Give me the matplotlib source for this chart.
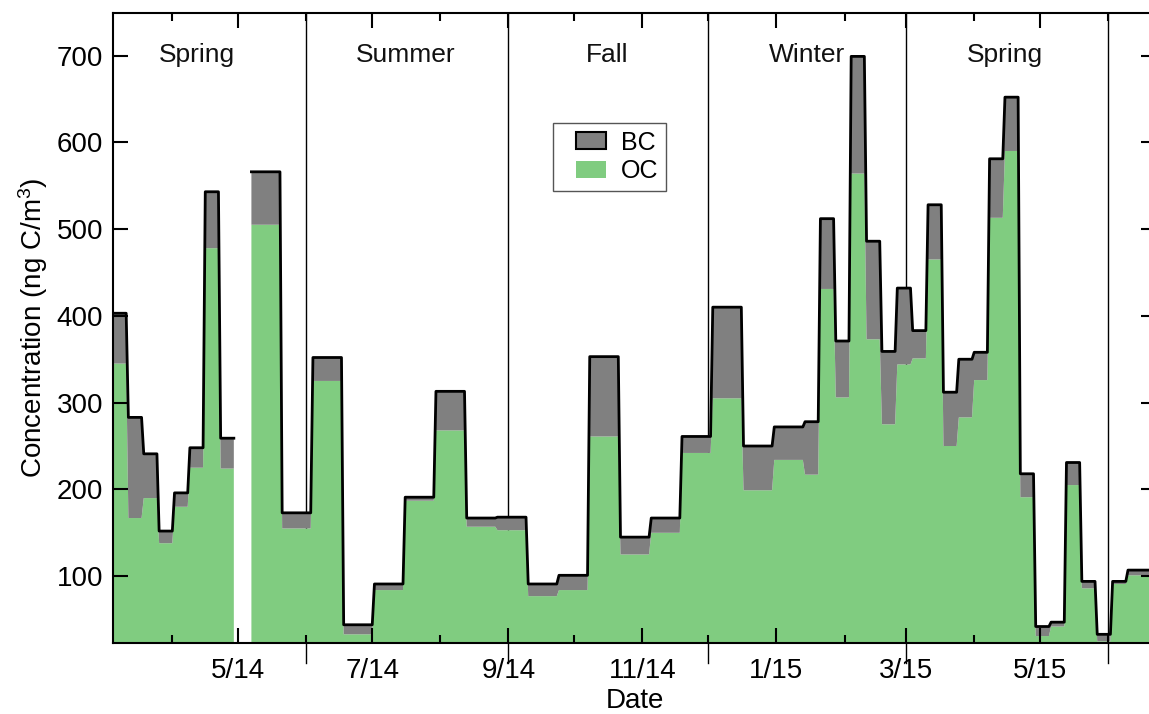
import matplotlib
matplotlib.use('Agg')
import matplotlib.pyplot as plt
import matplotlib.dates as mdates
import matplotlib.patches as mpatches
import matplotlib.transforms as mtransforms
from matplotlib.legend_handler import HandlerPatch
from matplotlib.ticker import FuncFormatter, MultipleLocator
import numpy as np
import pandas as pd

plt.rcParams['font.family'] = ['Liberation Sans', 'DejaVu Sans']
plt.rcParams['mathtext.default'] = 'regular'

# filter start dates (Wednesdays); the 4/30/14 filter is missing
start = ['2014-03-05', '2014-03-12', '2014-03-19', '2014-03-26', '2014-04-02',
         '2014-04-09', '2014-04-16', '2014-04-23', '2014-04-30', '2014-05-07',
         '2014-05-21', '2014-06-04', '2014-06-18', '2014-07-02', '2014-07-16',
         '2014-07-30', '2014-08-13', '2014-08-27', '2014-09-10', '2014-09-24',
         '2014-10-08', '2014-10-22', '2014-11-05', '2014-11-19', '2014-12-03',
         '2014-12-17', '2014-12-31', '2015-01-14', '2015-01-21', '2015-01-28',
         '2015-02-04', '2015-02-11', '2015-02-18', '2015-02-25', '2015-03-04',
         '2015-03-11', '2015-03-18', '2015-03-25', '2015-04-01', '2015-04-08',
         '2015-04-15', '2015-04-22', '2015-04-29', '2015-05-06', '2015-05-13',
         '2015-05-20', '2015-05-27', '2015-06-03', '2015-06-10']
last_end = '2015-06-24'

# ng C/m3
oc = [345, 167, 190, 138, 180, 225, 478, 224, np.nan, 505,
      155, 325, 33, 84, 187, 268, 157, 153, 77, 84,
      261, 125, 150, 242, 305, 199, 234, 217, 431, 306,
      564, 373, 275, 344, 351, 465, 250, 283, 326, 513,
      590, 191, 31, 42, 205, 86, 25, 91, 101]
bc = [58, 116, 51, 14, 16, 23, 65, 35, np.nan, 61,
      18, 27, 11, 7, 4, 45, 10, 15, 14, 17,
      92, 20, 17, 19, 105, 51, 38, 61, 81, 65,
      135, 113, 84, 88, 32, 63, 62, 67, 32, 68,
      62, 27, 11, 5, 26, 8, 8, 3, 6]

seasons = ['Spring', 'Summer', 'Fall', 'Winter', 'Spring']
season_bounds = ['2014-06-01', '2014-09-01', '2014-12-01', '2015-03-01',
                 '2015-06-01']
season_label_at = ['2014-04-12', '2014-07-16', '2014-10-16', '2015-01-15',
                   '2015-04-15']

green = '#80cc80'
grey = '#808080'

# each filter holds its value from its start to the day before the next one
s = mdates.date2num(pd.to_datetime(start))
e = np.append(s[1:] - 1, mdates.date2num(pd.Timestamp(last_end)))
x = np.column_stack([s, e]).ravel()
oc2 = np.repeat(np.array(oc, float), 2)
tot2 = np.repeat(np.array(oc, float) + np.array(bc, float), 2)

fig = plt.figure(figsize=(11.49, 7.14), dpi=100)
ax = fig.add_axes([113 / 1149, 1 - 643 / 714, 1043 / 1149, 630 / 714])

ax.fill_between(x, 0, oc2, color=green, lw=0, zorder=1)
ax.fill_between(x, oc2, tot2, color=grey, lw=0, zorder=1)
ax.plot(x, tot2, color='black', lw=2.0, zorder=3)

for b in mdates.date2num(pd.to_datetime(season_bounds)):
    ax.axvline(b, ymin=-0.031, ymax=1, color='black', lw=1.0, zorder=0.5,
               clip_on=False)

trans = mtransforms.blended_transform_factory(ax.transData, ax.transAxes)
for name, d in zip(seasons, pd.to_datetime(season_label_at)):
    ax.text(mdates.date2num(d), 0.934, name, transform=trans, ha='center',
            va='center', fontsize=19, color='#111111')

ax.set_xlim(mdates.date2num(pd.Timestamp('2014-03-05')),
            mdates.date2num(pd.Timestamp('2015-06-22 18:00')))
ax.set_ylim(23, 749)

ax.xaxis.set_major_locator(mdates.MonthLocator(bymonth=[1, 3, 5, 7, 9, 11]))
ax.xaxis.set_minor_locator(mdates.MonthLocator(bymonth=[2, 4, 6, 8, 10, 12]))


def month_label(v, pos):
    d = mdates.num2date(v)
    return f'{d.month}/{d:%y}'


ax.xaxis.set_major_formatter(FuncFormatter(month_label))
ax.yaxis.set_major_locator(MultipleLocator(100))

ax.tick_params(which='both', direction='in', top=True, right=True, width=1.5,
               labelsize=20)
ax.tick_params(which='major', length=11)
ax.tick_params(which='minor', length=5.5)
ax.tick_params(axis='x', pad=11)
ax.tick_params(axis='y', pad=7)
for sp in ax.spines.values():
    sp.set_linewidth(1.5)

ax.set_xlabel('Date', fontsize=20, labelpad=3)
ax.set_ylabel(r'Concentration (ng C/m$^{3}$)', fontsize=20, labelpad=5)


def right_box(legend, orig_handle, xdescent, ydescent, width, height, fontsize):
    w = 0.66 * width
    return mpatches.Rectangle((width - w - xdescent, -ydescent), w, height)


h_bc = mpatches.Patch(facecolor=grey, edgecolor='black', lw=1.5, label='BC')
h_oc = mpatches.Patch(facecolor=green, edgecolor='none', label='OC')
leg = ax.legend(handles=[h_bc, h_oc], loc='upper left',
                bbox_to_anchor=((553 - 113) / 1043, (643 - 123) / 630),
                borderaxespad=0, fontsize=18, fancybox=False, framealpha=1,
                edgecolor='#555555', borderpad=0.3, handlelength=1.82,
                handleheight=0.68, handletextpad=0.6, labelspacing=0.2,
                handler_map={mpatches.Patch: HandlerPatch(patch_func=right_box)})
leg.get_frame().set_linewidth(1.0)

fig.savefig('out.png', dpi=100)
